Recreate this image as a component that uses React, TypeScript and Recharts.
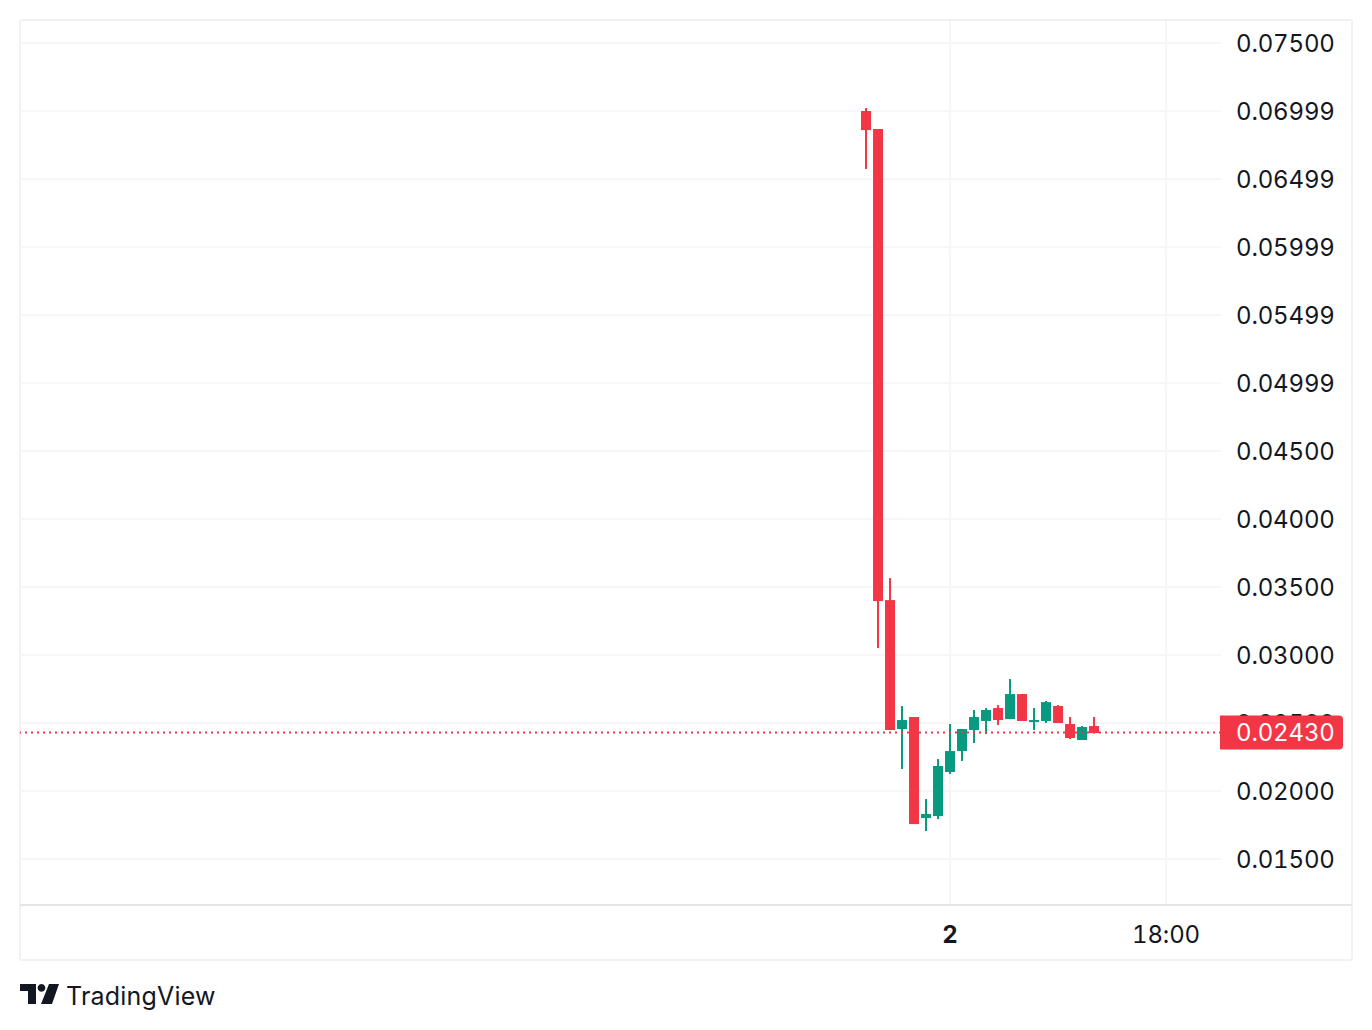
import { Bar, CartesianGrid, ComposedChart, ReferenceLine, XAxis, YAxis } from "recharts";

const UP = "#089981";
const DOWN = "#f23645";
const TEXT = "#131722";
const GRID = "#f6f6f7";
const FONT = "Inter, sans-serif";

// hours relative to the start of day 2
const hours = [-7, -6, -5, -4, -3, -2, -1, 0, 1, 2, 3, 4, 5, 6, 7, 8, 9, 10, 11, 12];
const opens = [0.07, 0.06868, 0.03404, 0.02456, 0.02544, 0.01801, 0.01816, 0.0214, 0.02294, 0.02449, 0.02515, 0.0261, 0.02529, 0.02713, 0.02507, 0.02515, 0.02625, 0.02493, 0.02375, 0.02478];
const closes = [0.0686, 0.03397, 0.02449, 0.02522, 0.01757, 0.01831, 0.02184, 0.02294, 0.02456, 0.02544, 0.02596, 0.02522, 0.02713, 0.02515, 0.02522, 0.02654, 0.025, 0.0239, 0.02471, 0.02426];
const highs = [0.07022, 0.06868, 0.03566, 0.02625, 0.02544, 0.01941, 0.02235, 0.02493, 0.02456, 0.02596, 0.0261, 0.02632, 0.02824, 0.02713, 0.0261, 0.02662, 0.02632, 0.02544, 0.02478, 0.02544];
const lows = [0.06574, 0.03051, 0.02449, 0.02162, 0.01757, 0.01706, 0.01794, 0.02125, 0.02221, 0.02353, 0.02419, 0.02485, 0.02529, 0.02515, 0.02449, 0.025, 0.025, 0.02382, 0.02375, 0.02426];

const priceTicks = [0.075, 0.06999, 0.06499, 0.05999, 0.05499, 0.04999, 0.045, 0.04, 0.035, 0.03, 0.025, 0.02, 0.015];
const timeTicks = [0, 18];
const timeLabels = ["2", "18:00"];
const lastPrice = 0.0243;

const candles = hours.map((hour, i) => ({
  hour,
  open: opens[i],
  close: closes[i],
  high: highs[i],
  low: lows[i],
  range: [lows[i], highs[i]],
}));

const numberStyle = { fontVariantNumeric: "tabular-nums", letterSpacing: -0.15 };

function Candle(props: any) {
  const { x, y, width, height, payload } = props;
  const { open, close, high, low } = payload;
  const color = close >= open ? UP : DOWN;
  const toY = (v: number) => y + ((high - v) / (high - low)) * height;
  const top = toY(Math.max(open, close));
  const bottom = toY(Math.min(open, close));
  const mid = x + width / 2;
  return (
    <g>
      <rect x={mid - 1} y={y} width={2} height={height} fill={color} />
      <rect x={x} y={top} width={width} height={Math.max(bottom - top, 2)} fill={color} />
    </g>
  );
}

function TimeTick(props: any) {
  const { x, y, payload } = props;
  const i = timeTicks.indexOf(payload.value);
  return (
    <text
      x={x}
      y={y}
      textAnchor="middle"
      fontFamily={FONT}
      fontSize={24}
      fontWeight={i === 0 ? 700 : 400}
      fill={TEXT}
      style={numberStyle}
    >
      {timeLabels[i]}
    </text>
  );
}

// the last price comes last in the tick list, so its badge lies over 0.02500
function PriceTick(props: any) {
  const { x, y, payload } = props;
  const isLast = payload.value === lastPrice;
  return (
    <g>
      {isLast && (
        <path
          d={`M${x - 16} ${y - 17}H${x + 103}a4 4 0 0 1 4 4V${y + 13}a4 4 0 0 1 -4 4H${x - 16}Z`}
          fill={DOWN}
        />
      )}
      <text
        x={x}
        y={isLast ? y + 8 : y + 9}
        fontFamily={FONT}
        fontSize={24}
        fill={isLast ? "#ffffff" : TEXT}
        style={numberStyle}
      >
        {payload.value.toFixed(5)}
      </text>
    </g>
  );
}

export default function App() {
  return (
    <div style={{ position: "absolute", left: 0, top: 0, width: 1372, height: 1030, background: "#fff" }}>
      <div
        style={{
          position: "absolute",
          left: 19,
          top: 19,
          width: 1330,
          height: 938,
          border: "2px solid #f1f1f2",
          borderRadius: 3,
        }}
      />
      <div style={{ position: "absolute", left: 1221, top: 904, width: 131, height: 2, background: "#e6e6e8" }} />
      <div style={{ position: "absolute", left: 0, top: 0 }}>
        <ComposedChart
          width={1372}
          height={1030}
          data={candles}
          margin={{ top: 21, right: 0, bottom: 0, left: 20 }}
        >
          <CartesianGrid
            stroke={GRID}
            strokeWidth={2}
            horizontalValues={priceTicks}
            verticalValues={timeTicks}
          />
          <XAxis
            dataKey="hour"
            type="number"
            domain={[-77.5, 22.58]}
            ticks={timeTicks}
            height={125}
            allowDataOverflow
            interval={0}
            tick={<TimeTick />}
            tickLine={false}
            tickSize={0}
            tickMargin={38}
            axisLine={{ stroke: "#e6e6e8", strokeWidth: 2 }}
          />
          <YAxis
            orientation="right"
            type="number"
            domain={[0.01162, 0.07662]}
            ticks={[...priceTicks, lastPrice]}
            width={151}
            allowDataOverflow
            interval={0}
            axisLine={false}
            tickLine={false}
            tickSize={0}
            tickMargin={15}
            tick={<PriceTick />}
          />
          <ReferenceLine y={lastPrice} stroke={DOWN} strokeWidth={2} strokeDasharray="2 4" />
          <Bar dataKey="range" barSize={10} shape={<Candle />} isAnimationActive={false} />
        </ComposedChart>
      </div>
      <svg style={{ position: "absolute", left: 20, top: 984 }} width={40} height={20}>
        <path d="M0 0H16V20H8V7H0Z M21.5 0a3.9 3.9 0 1 1 -0.01 0Z M29 0H39L32 20H21Z" fill={TEXT} />
      </svg>
      <div
        style={{
          position: "absolute",
          left: 66,
          top: 980,
          fontFamily: FONT,
          fontSize: 25,
          lineHeight: "32px",
          letterSpacing: 0.2,
          color: TEXT,
        }}
      >
        TradingView
      </div>
    </div>
  );
}
